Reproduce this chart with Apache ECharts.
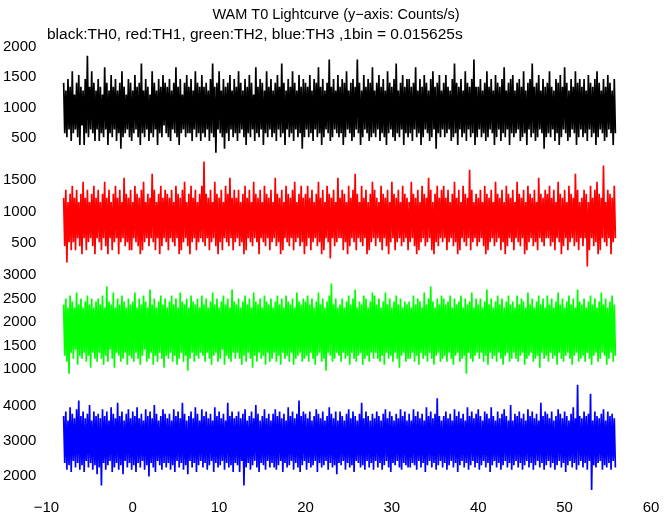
<!DOCTYPE html>
<html><head><meta charset="utf-8">
<script src="https://cdn.jsdelivr.net/npm/echarts@6/dist/echarts.min.js"></script>
<style>html,body{margin:0;padding:0;background:#fff}#c{width:672px;height:515px}</style>
</head><body><div id="c"></div><script>
// light curve samples: counts per 1/64 s bin, one sample every 0.125 s from t = -8 s
const binWidth = 0.015625;
const sampleStart = -8;
const sampleStep = 0.125;
const th0Counts = [
22,9,20,8,23,10,21,7,25,9,19,10,22,8,24,6,21,11,20,6,23,9,29,8,21,10,25,9,22,7,20,10,
23,7,21,9,19,8,26,10,22,6,20,9,24,8,21,10,23,7,20,9,22,5,25,8,21,9,19,10,23,8,22,7,
20,9,24,10,21,8,22,6,27,9,20,8,23,10,21,7,19,9,25,8,22,10,20,6,23,9,21,8,24,11,22,9,
21,8,23,7,20,10,22,9,26,8,21,6,23,9,19,10,22,8,24,9,21,9,23,7,20,10,25,8,22,9,21,7,
24,9,21,8,22,10,20,7,23,9,27,8,21,4,22,10,25,9,20,8,23,5,21,9,22,7,24,10,20,8,23,9,
21,7,25,9,22,10,20,8,23,6,21,9,24,8,22,10,19,7,26,9,21,8,23,10,22,6,20,9,25,8,21,10,
23,8,20,9,22,7,24,10,21,8,27,9,22,6,20,10,23,8,21,9,25,7,22,10,20,8,24,9,21,5,23,8,
22,10,21,8,24,9,20,7,23,10,22,8,26,9,21,6,23,8,20,10,22,9,28,7,21,8,23,10,20,9,24,8,
21,9,23,6,22,8,25,10,20,9,22,7,23,8,21,10,28,9,22,6,20,8,24,10,21,9,23,7,22,8,26,9,
20,8,22,10,24,7,21,9,23,8,20,6,25,9,22,10,21,8,23,7,27,9,20,8,22,10,24,6,21,9,23,8,
23,9,21,7,22,10,26,8,20,9,23,6,21,8,24,10,22,9,20,7,23,8,25,10,21,5,22,9,24,8,20,10,
22,8,24,9,21,10,20,7,23,8,27,9,22,6,21,10,23,8,20,9,25,7,22,10,21,8,23,9,28,6,21,8,
21,10,23,8,20,9,22,7,25,8,21,10,23,9,20,6,24,8,22,10,21,7,23,9,26,8,20,10,22,6,23,9,
24,8,20,9,22,10,23,7,21,8,25,9,20,6,22,10,23,8,27,9,21,7,22,8,24,10,20,9,23,5,21,8,
22,9,25,8,21,10,20,7,23,9,22,6,24,8,21,10,26,9,22,7,20,8,23,10,21,9,25,6,22,8,23,10,
21,8,23,9,20,7,24,10,22,8,21,9,23,6,25,8,22,10,20,9,23,7,21,8,24,10,22,9,20,6,23,9];
const th1Counts = [
19,7,21,3,18,8,20,6,22,8,19,6,21,9,18,7,20,5,23,9,19,6,21,8,18,9,20,7,22,5,19,9,
21,8,18,6,20,9,23,7,19,5,21,9,18,6,20,8,22,9,19,5,21,8,18,9,24,7,20,8,19,6,21,6,
18,9,22,8,20,7,19,5,21,6,23,8,18,9,20,7,19,9,25,8,21,6,18,9,20,5,22,7,19,9,21,8,
20,6,19,9,21,8,18,7,22,9,20,5,19,6,21,8,23,9,18,7,20,5,22,8,19,9,21,6,18,8,20,9,
22,8,28,7,20,9,19,6,21,8,18,9,23,7,20,5,19,8,21,6,18,9,22,8,20,7,24,9,19,6,21,8,
19,9,21,7,18,8,20,5,22,6,19,9,21,8,18,7,23,9,20,8,19,5,21,9,18,8,22,7,20,9,19,6,
21,8,18,9,24,7,20,8,19,5,21,6,18,9,22,8,20,7,19,9,21,6,23,8,18,9,20,7,22,8,19,5,
20,7,22,9,19,6,21,8,18,9,20,7,23,8,19,5,21,6,18,9,22,8,20,4,19,9,21,7,18,8,24,9,
19,9,21,6,20,8,18,5,22,7,19,9,21,8,25,6,20,9,18,8,22,7,19,9,21,5,18,6,20,8,23,9,
21,7,19,9,18,8,22,6,20,9,19,7,21,5,18,8,23,9,20,6,19,8,21,9,18,7,22,8,20,9,19,6,
18,8,23,9,20,7,19,5,21,6,18,8,22,9,20,7,19,8,24,9,21,6,18,5,20,8,22,7,19,9,21,8,
22,9,19,6,21,8,18,9,20,7,23,8,19,5,21,6,18,9,22,8,20,7,19,9,26,6,21,8,18,9,20,7,
19,8,21,9,18,7,22,5,20,6,19,8,21,9,18,7,23,8,20,9,19,6,21,8,18,5,22,7,20,9,19,8,
21,6,18,9,23,8,20,7,19,9,21,5,18,6,22,8,20,9,19,7,21,8,18,6,24,9,20,8,19,7,21,9,
20,9,22,7,19,8,21,6,18,9,23,8,20,5,19,7,21,9,18,6,22,8,20,9,19,7,25,8,21,6,18,9,
19,7,21,9,20,2,18,6,22,9,19,7,21,8,23,5,20,6,19,9,27,8,18,7,21,9,20,5,19,8,22,9];
const th2Counts = [
37,20,39,18,36,14,40,21,38,19,36,22,41,17,37,20,39,19,36,21,38,18,40,20,37,16,39,21,36,19,38,18,
39,21,37,19,40,17,36,20,43,18,38,22,37,19,41,16,36,21,39,20,37,18,40,19,38,21,36,17,39,20,37,19,
38,18,41,21,36,19,39,17,37,20,40,22,38,18,36,19,42,21,37,17,39,20,36,18,38,21,40,19,37,16,39,20,
36,19,38,21,40,18,37,20,39,17,36,19,41,21,38,18,37,20,39,15,36,19,40,21,38,18,37,20,39,19,36,21,
40,20,37,18,39,21,36,19,38,17,41,20,37,21,39,18,36,19,38,22,40,17,37,20,39,19,36,18,42,21,38,19,
37,21,39,19,36,17,38,20,40,18,37,21,39,19,36,16,41,20,38,18,37,21,39,19,36,20,40,17,38,21,37,18,
39,19,36,21,38,18,40,20,37,17,39,21,36,19,40,20,38,18,37,21,39,17,36,19,41,20,38,21,37,18,39,19,
38,20,40,18,37,21,39,19,36,17,38,20,41,21,37,18,39,19,36,15,38,21,40,20,44,18,37,19,39,21,36,20,
37,18,39,21,36,19,38,20,40,17,37,21,39,19,42,18,36,20,38,21,37,17,40,19,39,20,36,18,38,21,41,19,
40,21,37,19,39,18,36,20,38,17,41,21,37,19,39,20,36,18,38,21,40,19,37,16,39,20,36,21,38,18,37,19,
38,19,36,21,40,18,37,20,39,17,38,21,36,19,41,20,37,18,39,21,43,19,38,17,36,20,39,21,37,18,40,19,
39,20,37,18,38,21,40,19,36,17,39,20,37,21,38,18,40,19,36,20,39,14,37,21,38,19,41,18,36,20,39,21,
37,19,39,21,36,18,38,20,42,17,37,21,39,19,36,20,38,18,40,21,37,19,39,17,36,20,38,21,40,18,37,19,
38,21,36,19,40,18,37,20,39,21,38,17,36,19,41,20,37,21,39,18,36,19,38,20,40,16,37,21,39,19,36,20,
40,18,37,21,39,19,36,20,38,17,41,21,37,19,39,18,36,20,38,21,40,19,37,17,39,20,36,21,42,18,38,19,
37,20,39,18,36,21,38,19,40,17,37,20,39,21,36,18,38,19,41,21,37,20,39,17,36,19,38,21,40,18,37,20];
const th3Counts = [
58,37,60,34,56,36,62,33,59,38,57,35,61,37,65,34,58,36,60,33,57,38,59,35,63,37,56,34,60,36,58,32,
59,35,57,27,61,37,58,34,60,36,56,38,62,33,59,35,57,37,64,34,58,36,60,32,56,38,59,35,61,37,57,34,
60,36,58,33,62,37,57,35,59,38,56,34,61,36,58,31,60,37,57,35,63,33,59,38,56,36,58,34,61,37,59,35,
57,37,59,34,56,36,61,33,58,38,60,35,57,37,64,34,59,36,56,32,58,38,60,35,57,37,62,33,59,36,56,38,
61,35,58,37,60,34,57,36,59,38,56,33,62,37,58,35,60,36,57,38,59,34,56,37,64,35,58,36,60,33,57,37,
58,36,60,33,57,38,59,27,61,35,56,37,58,34,60,36,57,38,63,35,59,33,56,37,58,36,61,34,57,38,59,35,
56,37,59,35,61,34,58,36,60,38,57,33,59,37,56,35,62,36,58,38,60,34,57,37,59,35,65,33,58,36,60,38,
59,34,57,37,60,35,56,36,58,38,61,33,59,37,57,35,60,36,56,38,58,34,62,37,59,35,57,36,60,32,56,37,
60,36,58,38,56,34,59,37,61,35,57,36,60,33,58,38,56,37,59,35,64,36,57,34,60,38,58,35,56,37,59,34,
57,38,60,35,58,37,56,34,59,36,61,38,57,35,60,33,58,37,56,36,59,38,57,35,61,34,58,37,60,36,56,35,
59,35,56,37,61,36,58,34,60,38,57,35,59,37,56,33,62,36,58,38,60,35,57,37,59,34,66,36,58,38,56,35,
58,37,60,34,57,36,59,38,56,35,61,37,58,33,60,36,57,38,59,35,56,37,62,34,58,36,60,38,57,35,59,37,
61,34,58,36,56,38,60,35,59,37,57,33,62,36,58,38,56,35,60,37,57,34,59,36,61,38,58,35,56,37,63,34,
56,36,59,38,58,35,60,37,57,34,59,36,56,38,61,35,58,37,60,34,57,36,59,38,56,35,64,37,58,34,60,36,
59,38,57,35,60,37,56,34,58,36,61,38,59,35,57,37,60,33,58,36,56,38,59,35,62,37,57,34,72,36,58,38,
57,35,60,37,58,34,59,38,68,25,56,36,60,35,58,37,57,38,59,34,61,36,56,35,60,37,58,34,59,38,57,35];

const seriesNames = ['TH0', 'TH1', 'TH2', 'TH3'];
const seriesCounts = [th0Counts, th1Counts, th2Counts, th3Counts];
const xTickValues = [-10, 0, 10, 20, 30, 40, 50, 60];
const yTickValues = [
  [500, 1000, 1500, 2000],
  [500, 1000, 1500],
  [1000, 1500, 2000, 2500, 3000],
  [2000, 3000, 4000]
];
const titleText = 'WAM T0 Lightcurve (y\u2212axis: Counts/s)';
const subtitleText = 'black:TH0, red:TH1, green:TH2, blue:TH3 ,1bin = 0.015625s';

// layout / style
const colors = ['#000000', '#ff0000', '#00ff00', '#0000ff'];
const panels = [
  {top: 47, height: 111, min: 168, max: 2000},
  {top: 159, height: 114, min: 24, max: 1833},
  {top: 274, height: 109, min: 700, max: 3020},
  {top: 384, height: 107, min: 1570, max: 4630}
];
const FONT = "'Liberation Sans', Arial, Helvetica, sans-serif";

const toRate = c => c / binWidth;
function seriesData(counts) {
  return counts.map((c, k) => [sampleStart + k * sampleStep, toRate(c)]);
}
const plain = v => String(v).replace('-', '\u2212');

const grid = panels.map(p => ({left: 45, right: 21, top: p.top, height: p.height, containLabel: false}));
const xAxis = panels.map((p, i) => ({
  type: 'value', gridIndex: i, min: -10, max: 60, interval: 10,
  axisLine: {show: false}, axisTick: {show: false}, splitLine: {show: false},
  axisLabel: {
    show: i === panels.length - 1, color: '#000', fontSize: 15, fontFamily: FONT, margin: 9,
    customValues: xTickValues, formatter: plain
  }
}));
const yAxis = panels.map((p, i) => ({
  type: 'value', gridIndex: i, min: p.min, max: p.max,
  axisLine: {show: false}, axisTick: {show: false}, splitLine: {show: false},
  axisLabel: {
    color: '#000', fontSize: 15, fontFamily: FONT, margin: 10,
    customValues: yTickValues[i], formatter: plain
  }
}));
const series = seriesCounts.map((counts, i) => ({
  name: seriesNames[i], type: 'line', xAxisIndex: i, yAxisIndex: i,
  data: seriesData(counts), showSymbol: false, symbol: 'none',
  lineStyle: {color: colors[i], width: 1.7, join: 'miter'}, itemStyle: {color: colors[i]},
  animation: false, silent: true
}));

const chart = echarts.init(document.getElementById('c'), null, {renderer: 'canvas'});
chart.setOption({
  backgroundColor: '#ffffff',
  animation: false,
  title: [
    {text: titleText, left: 'center', top: 2,
     textStyle: {fontSize: 14.5, fontWeight: 'normal', color: '#000', fontFamily: FONT}},
    {text: subtitleText, left: 42, top: 22,
     textStyle: {fontSize: 15.5, fontWeight: 'normal', color: '#000', fontFamily: FONT}}
  ],
  grid, xAxis, yAxis, series
});
</script></body></html>
